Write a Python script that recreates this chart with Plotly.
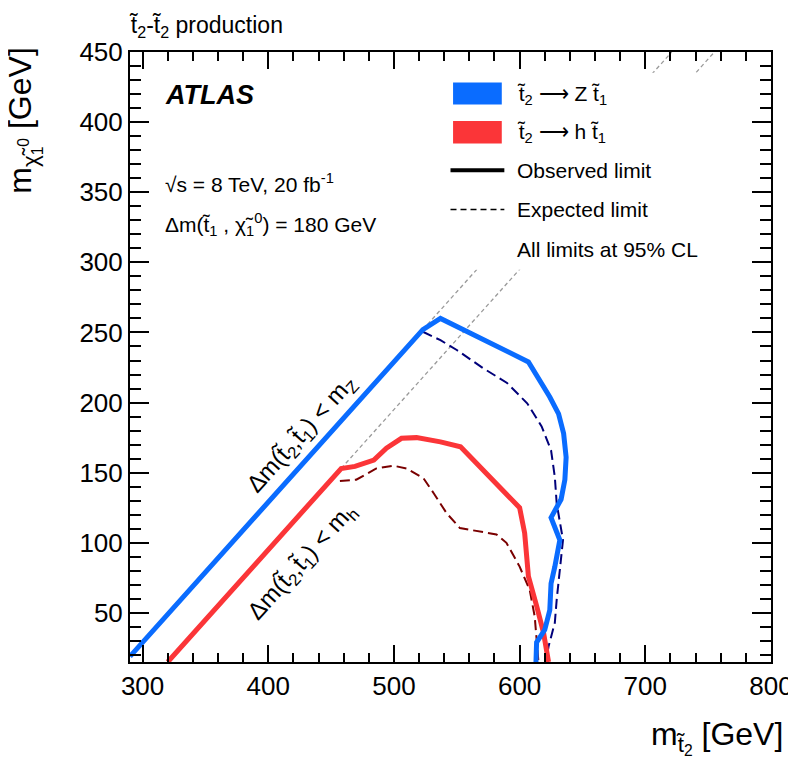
import plotly.graph_objects as go

# t2 -> Z t1 limits (m_t2, m_chi)
z_obs_x = [290, 523, 537, 607, 624, 631, 635, 637, 636, 633, 625, 632, 628, 625, 624, 620, 613.5, 613]
z_obs_y = [19, 252, 260, 229, 204, 192, 178, 161, 145, 131, 118, 102, 83, 71, 52, 38, 29, 15]
z_exp_x = [523, 537, 550, 571, 590, 606, 617.5, 625, 628, 629.5, 634.5, 632, 629.5, 628, 623, 621]
z_exp_y = [250.5, 244.5, 237.5, 224.5, 214, 199.5, 183, 166, 147, 128, 102, 83, 59.5, 43, 26, 15]

# t2 -> h t1 limits
h_obs_x = [320, 458, 469, 484, 494, 506, 518, 537, 553, 571, 587, 600, 604, 607, 613.5, 619, 623]
h_obs_y = [15, 153, 154.5, 159, 167.5, 174.5, 175, 172, 168.5, 152, 138, 125, 107, 76, 55, 36, 15]
h_exp_x = [457, 470, 486, 499.5, 510, 523.5, 531.5, 542, 552.5, 581.5, 589.5, 600, 608, 612, 615]
h_exp_y = [144, 145, 153, 155, 153, 146, 135.5, 121, 110.5, 106, 100, 83, 66.5, 47.5, 15]

# kinematic boundaries: dm(t2,t1) = mZ or mh, with m(t1) = m(chi) + 180
dm_t1 = 180
m_z, m_h = 91, 125
x_range = [290, 800]
y_range = [15, 450]

BLUE = "#0a6cff"
RED = "#fb3538"
FONT = "Liberation Sans, Arial, sans-serif"

fig = go.Figure()

# gray dotted extensions of the kinematic limits
for dm, x0, y0 in [(dm_t1 + m_z, z_obs_x[1], z_obs_y[1]), (dm_t1 + m_h, h_obs_x[1], h_obs_y[1])]:
    fig.add_trace(go.Scatter(
        x=[x0, y_range[1] + dm], y=[y0, y_range[1]], mode="lines",
        line=dict(color="#9a9a9a", width=1.3, dash="4px,3px"),
        hoverinfo="skip"
    ))

fig.add_trace(go.Scatter(x=h_exp_x, y=h_exp_y, mode="lines",
                         line=dict(color="#7a0000", width=2, dash="10px,5px")))
fig.add_trace(go.Scatter(x=z_exp_x, y=z_exp_y, mode="lines",
                         line=dict(color="#00007a", width=2, dash="10px,5px")))
fig.add_trace(go.Scatter(x=h_obs_x, y=h_obs_y, mode="lines",
                         line=dict(color=RED, width=5)))
fig.add_trace(go.Scatter(x=z_obs_x, y=z_obs_y, mode="lines",
                         line=dict(color=BLUE, width=5)))

fig.update_xaxes(
    range=x_range, dtick=100,
    ticks="inside", ticklen=17, tickcolor="black", tickwidth=2,
    minor=dict(dtick=20, ticks="inside", ticklen=9, tickcolor="black", tickwidth=2),
    showline=True, linecolor="black", linewidth=2, mirror="ticks",
    showgrid=False, zeroline=False,
    tickfont=dict(family=FONT, size=26, color="black"),
)
fig.update_yaxes(
    range=y_range, dtick=50,
    ticks="inside", ticklen=19, tickcolor="black", tickwidth=2,
    minor=dict(dtick=10, ticks="inside", ticklen=11, tickcolor="black", tickwidth=2),
    showline=True, linecolor="black", linewidth=2, mirror="ticks",
    showgrid=False, zeroline=False,
    tickfont=dict(family=FONT, size=26, color="black"),
)

shapes = [
    # legend background
    dict(type="rect", xref="paper", yref="paper", x0=0.49, x1=0.955, y0=0.643, y1=0.966,
         fillcolor="white", line=dict(width=0), layer="above"),
    dict(type="rect", xref="paper", yref="paper", x0=0.504, x1=0.580, y0=0.914, y1=0.950,
         fillcolor=BLUE, line=dict(width=0), layer="above"),
    dict(type="rect", xref="paper", yref="paper", x0=0.504, x1=0.580, y0=0.850, y1=0.887,
         fillcolor=RED, line=dict(width=0), layer="above"),
    dict(type="line", xref="paper", yref="paper", x0=0.500, x1=0.584, y0=0.806, y1=0.806,
         line=dict(color="black", width=4), layer="above"),
    dict(type="line", xref="paper", yref="paper", x0=0.500, x1=0.584, y0=0.742, y1=0.742,
         line=dict(color="black", width=1.5, dash="6px,4px"), layer="above"),
]

leg_font = dict(family=FONT, size=21, color="black")
annotations = [
    dict(text="t\u0303<sub>2</sub> \u27f6 Z t\u0303<sub>1</sub>", x=0.601, y=0.930),
    dict(text="t\u0303<sub>2</sub> \u27f6 h t\u0303<sub>1</sub>", x=0.601, y=0.867),
    dict(text="Observed limit", x=0.601, y=0.806),
    dict(text="Expected limit", x=0.601, y=0.742),
    dict(text="All limits at 95% CL", x=0.601, y=0.676),
    dict(text="\u221As = 8 TeV, 20 fb<sup>-1</sup>", x=0.051, y=0.786),
    dict(text="\u0394m(t\u0303<sub>1</sub> , \u03c7\u0303<sub>1</sub><sup>0</sup>) = 180 GeV", x=0.051, y=0.718),
]
annotations = [dict(a, xref="paper", yref="paper", xanchor="left", yanchor="middle",
                    showarrow=False, font=leg_font) for a in annotations]

annotations += [
    dict(text="<b><i>ATLAS</i></b>", x=0.051, y=0.930, xref="paper", yref="paper",
         xanchor="left", yanchor="middle", showarrow=False,
         font=dict(family=FONT, size=27, color="black")),
    dict(text="t\u0303<sub>2</sub>-t\u0303<sub>2</sub> production", x=-0.004, y=1.042,
         xref="paper", yref="paper", xanchor="left", yanchor="middle", showarrow=False,
         font=dict(family=FONT, size=23, color="black")),
    # axis titles
    dict(text="m<sub>t\u0303<sub>2</sub></sub> [GeV]", x=1.022, y=-0.124,
         xref="paper", yref="paper", xanchor="right", yanchor="middle", showarrow=False,
         font=dict(family=FONT, size=32, color="black")),
    dict(text="m<sub>\u03c7\u0303<sub>1</sub><sup>0</sup></sub> [GeV]", x=-0.166, y=1.012,
         xref="paper", yref="paper", xanchor="center", yanchor="top", textangle=-90,
         showarrow=False, font=dict(family=FONT, size=32, color="black")),
    # kinematic boundary labels
    dict(text="\u0394m(t\u0303<sub>2</sub>,t\u0303<sub>1</sub>) < m<sub>Z</sub>", x=427, y=177,
         xanchor="center", yanchor="middle", textangle=-48, showarrow=False,
         font=dict(family=FONT, size=24, color="black")),
    dict(text="\u0394m(t\u0303<sub>2</sub>,t\u0303<sub>1</sub>) < m<sub>h</sub>", x=427, y=86,
         xanchor="center", yanchor="middle", textangle=-48, showarrow=False,
         font=dict(family=FONT, size=24, color="black")),
]

# the page adds an 8px body margin, so the figure is 8px smaller than the window
fig.update_layout(
    width=788, height=760,
    margin=dict(l=122, r=25, t=44, b=106, autoexpand=False),
    paper_bgcolor="white", plot_bgcolor="white",
    showlegend=False,
    shapes=shapes,
    annotations=annotations,
    font=dict(family=FONT, color="black"),
)

fig.write_html("out.html")
